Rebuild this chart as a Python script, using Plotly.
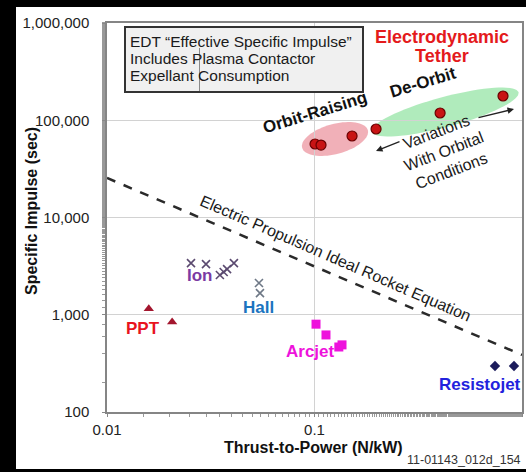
import numpy as np
import plotly.graph_objects as go

# ---------------- data ----------------
ppt_x = [0.0159, 0.0206]
ppt_y = [1150, 840]

ion_x = [0.0254, 0.0300, 0.0350, 0.0365, 0.0379, 0.0409]
ion_y = [3400, 3320, 2560, 2750, 2950, 3400]

hall_x = [0.0540, 0.0546]
hall_y = [2120, 1670]

arcjet_x = [0.1017, 0.1136, 0.1310, 0.1357]
arcjet_y = [800, 620, 466, 490]

resistojet_x = [0.741, 0.915]
resistojet_y = [297, 297]

edt_x = [0.1006, 0.1075, 0.1517, 0.198, 0.403, 0.810]
edt_y = [57000, 55600, 68900, 81300, 118700, 177600]

ideal_x = [0.01, 1.0]
ideal_y = [25500, 386]

x_tickvals = [0.01, 0.1, 1]
x_ticktext = ["0.01", "0.1", "1"]
y_tickvals = [100, 1000, 10000, 100000, 1000000]
y_ticktext = ["100", "1,000", "10,000", "100,000", "1,000,000"]

# ---------------- geometry helpers (pixel -> paper) ----------------
W, H = 526, 472
L, R, T, B = 107, 522, 23, 412
FONT = "Liberation Sans, Arial, sans-serif"


def px(x):
    return (x - L) / (R - L)


def py(y):
    return (B - y) / (B - T)


fig = go.Figure()

fig.add_trace(go.Scatter(x=ideal_x, y=ideal_y, mode="lines",
                         line=dict(color="#2a2a2a", width=2.5, dash="dash"),
                         hoverinfo="skip"))
fig.add_trace(go.Scatter(x=ppt_x, y=ppt_y, mode="markers",
                         marker=dict(symbol="triangle-up", size=9, color="#a3162e")))
fig.add_trace(go.Scatter(x=ion_x, y=ion_y, mode="markers",
                         marker=dict(symbol="x-thin", size=8,
                                     line=dict(color="#5b4a70", width=1.6))))
fig.add_trace(go.Scatter(x=hall_x, y=hall_y, mode="markers",
                         marker=dict(symbol="x-thin", size=8,
                                     line=dict(color="#6e7886", width=1.6))))
fig.add_trace(go.Scatter(x=arcjet_x, y=arcjet_y, mode="markers",
                         marker=dict(symbol="square", size=9, color="#ee12dc")))
fig.add_trace(go.Scatter(x=resistojet_x, y=resistojet_y, mode="markers",
                         marker=dict(symbol="diamond", size=8, color="#1c1c5c")))
fig.add_trace(go.Scatter(x=edt_x, y=edt_y, mode="markers",
                         marker=dict(symbol="circle", size=10, color="#c81414",
                                     line=dict(color="#6a0000", width=1.2))))

shapes = []


def ellipse_path(cx, cy, a, b, deg, n=72):
    t = np.linspace(0, 2 * np.pi, n, endpoint=False)
    th = np.radians(deg)
    xs = cx + a * np.cos(t) * np.cos(th) - b * np.sin(t) * np.sin(th)
    ys = cy - (a * np.cos(t) * np.sin(th) + b * np.sin(t) * np.cos(th))
    pts = [f"{px(x):.5f},{py(y):.5f}" for x, y in zip(xs, ys)]
    return "M " + " L ".join(pts) + " Z"


shapes.append(dict(type="path", xref="paper", yref="paper", layer="below",
                   path=ellipse_path(335, 139, 34, 15, 15),
                   fillcolor="rgba(236,150,160,0.75)", line=dict(width=0)))
shapes.append(dict(type="path", xref="paper", yref="paper", layer="below",
                   path=ellipse_path(445, 112, 76, 15, 15),
                   fillcolor="rgba(150,228,165,0.75)", line=dict(width=0)))

# text box
shapes.append(dict(type="rect", xref="paper", yref="paper", layer="above",
                   x0=px(125), x1=px(363), y0=py(92), y1=py(27),
                   fillcolor="#f0f0f0", line=dict(color="#333333", width=2)))
shapes.append(dict(type="line", xref="paper", yref="paper", layer="above",
                   x0=px(199.5), x1=px(199.5), y0=py(91), y1=py(48),
                   line=dict(color="#8a8a8a", width=1)))

annotations = []

# black picture frame of the original image (as empty black boxes)
for fx, fy, fw, fh in [(0, 0, 16, 472), (0, 0, 526, 7), (0, 469, 526, 3)]:
    annotations.append(dict(text=" ", x=px(fx), y=py(fy), xref="paper", yref="paper",
                            xanchor="left", yanchor="top", showarrow=False,
                            width=fw, height=fh, bgcolor="black", borderpad=0,
                            borderwidth=0, font=dict(size=1, color="black")))


def ann(text, x, y, size, color="#1a1a1a", angle=0, xanchor="center",
        yanchor="middle", align="center"):
    annotations.append(dict(text=text, x=px(x), y=py(y), xref="paper", yref="paper",
                            showarrow=False, textangle=angle, xanchor=xanchor,
                            yanchor=yanchor, align=align,
                            font=dict(family=FONT, size=size, color=color)))


# box text
ann("EDT \u201cEffective Specific Impulse\u201d", 128, 41, 15.5, "#1a1a1a", xanchor="left")
ann("Includes Plasma Contactor", 128, 58, 15.5, "#1a1a1a", xanchor="left")
ann("Expellant Consumption", 128, 75, 15.5, "#1a1a1a", xanchor="left")

ann("<b>Electrodynamic</b>", 442, 37, 18, "#e41a1c")
ann("<b>Tether</b>", 442, 56, 18, "#e41a1c")
ann("<b>De-Orbit</b>", 423, 83, 17, "#111111", angle=-17)
ann("<b>Orbit-Raising</b>", 315, 112, 17, "#111111", angle=-17)
ann("Variations<br>With Orbital<br>Conditions", 444, 151, 16, "#1a1a1a", angle=-21)
ann("Electric Propulsion Ideal Rocket Equation", 336, 258, 16, "#1a1a1a", angle=23.5)

ann("<b>PPT</b>", 143, 328, 17, "#e8141e")
ann("<b>Ion</b>", 200, 275, 17, "#7b3aa3")
ann("<b>Hall</b>", 258, 307, 17, "#1b74c0")
ann("<b>Arcjet</b>", 310, 351, 17, "#ee12dc")
ann("<b>Resistojet</b>", 480, 384, 17, "#2222dd")

ann("<b>Specific Impulse (sec)</b>", 31, 211, 16, "#111111", angle=-90)
ann("<b>Thrust-to-Power (N/kW)</b>", 313, 447, 16, "#111111")
ann("11-01143_012d_154", 405, 460, 12.5, "#333333", xanchor="left")

# arrows
for hx, hy, tx, ty in [(376, 151, 401, 141), (514, 109, 477, 118)]:
    annotations.append(dict(text="", x=px(hx), y=py(hy), xref="paper", yref="paper",
                            showarrow=True, ax=tx - hx, ay=ty - hy, arrowhead=2,
                            arrowsize=1, arrowwidth=1.3, arrowcolor="#222222"))

fig.update_layout(
    width=W, height=H,
    margin=dict(l=L, r=W - R, t=T, b=H - B, pad=0, autoexpand=False),
    paper_bgcolor="white", plot_bgcolor="white",
    showlegend=False,
    font=dict(family=FONT, size=15, color="#222222"),
    shapes=shapes, annotations=annotations,
)
fig.update_xaxes(type="log", range=[-2, 0], tickvals=x_tickvals, ticktext=x_ticktext,
                 automargin=False,
                 showgrid=True, gridcolor="#d2d2d2", gridwidth=1,
                 showline=True, linecolor="#858585", linewidth=1.5, mirror=True,
                 ticks="outside", ticklen=3, tickcolor="#888888",
                 tickfont=dict(family=FONT, size=15, color="#222222"),
                 minor=dict(ticks="outside", ticklen=3, tickcolor="#999999", showgrid=False),
                 zeroline=False)
fig.update_yaxes(type="log", range=[2, 6], tickvals=y_tickvals, ticktext=y_ticktext,
                 automargin=False,
                 showgrid=True, gridcolor="#d2d2d2", gridwidth=1,
                 showline=True, linecolor="#858585", linewidth=1.5, mirror=True,
                 ticks="outside", ticklen=3, tickcolor="#888888",
                 ticklabelstandoff=10,
                 tickfont=dict(family=FONT, size=15, color="#222222"),
                 minor=dict(ticks="outside", ticklen=3, tickcolor="#999999", showgrid=False),
                 zeroline=False)

fig.write_html("out.html", config={"displayModeBar": False},
               post_script="document.body.style.margin='0';document.body.style.padding='0';")
